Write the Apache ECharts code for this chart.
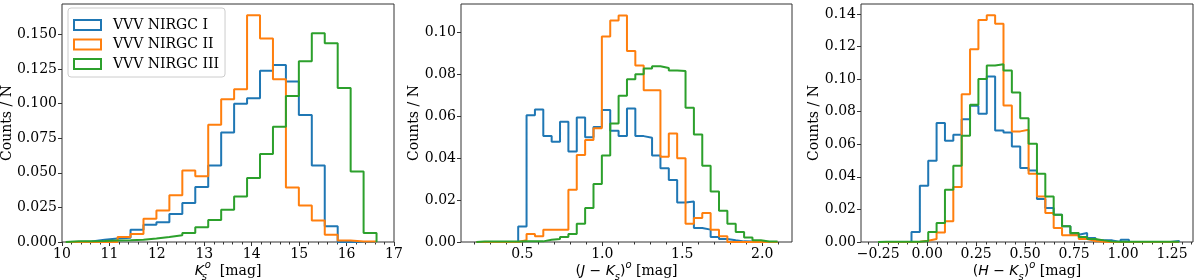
<!DOCTYPE html>
<html><head><meta charset="utf-8">
<script src="https://cdn.jsdelivr.net/npm/echarts@6/dist/echarts.min.js"></script>
<style>html,body{margin:0;padding:0;background:#fff}#c{width:1200px;height:280px}</style>
</head><body><div id="c"></div>
<script>
const SERIES_NAMES = ['VVV NIRGC I', 'VVV NIRGC II', 'VVV NIRGC III'];
const COLORS = ['#1f77b4', '#ff7f0e', '#2ca02c'];

// Panel 1: Ks^o histogram (bins)
const KS_BIN_START = 10.08, KS_BIN_WIDTH = 0.273;
const ks_I   = [0, 0.0003, 0.0017, 0.0026, 0.003, 0.0089, 0.0125, 0.0142, 0.0202, 0.0281, 0.0397, 0.0553, 0.0791, 0.0998, 0.1038, 0.1236, 0.1279, 0.1159, 0.0918, 0.0553, 0.0113, 0, 0, 0];
const ks_II  = [0, 0, 0, 0, 0.0036, 0.0058, 0.0168, 0.0228, 0.0337, 0.0517, 0.0474, 0.0846, 0.1031, 0.1103, 0.1637, 0.1469, 0.1175, 0.0394, 0.0264, 0.0156, 0.0053, 0.001, 0.0003, 0.0003];
const ks_III = [0.0005, 0.0005, 0.0007, 0.001, 0.0012, 0.0017, 0.0026, 0.0036, 0.0048, 0.0065, 0.0106, 0.0159, 0.0233, 0.0329, 0.0462, 0.0635, 0.0832, 0.1055, 0.1305, 0.1507, 0.1435, 0.1113, 0.051, 0.0065];

// Panel 2: (J-Ks)^o histogram
const JK_BIN_START = 0.213, JK_BIN_WIDTH = 0.0523;
const jk_I   = [0, 0, 0, 0, 0, 0.0074, 0.0605, 0.0632, 0.0505, 0.0478, 0.0573, 0.0431, 0.0594, 0.0499, 0.0549, 0.0629, 0.053, 0.0505, 0.0637, 0.0505, 0.0497, 0.0412, 0.0352, 0.0296, 0.0188, 0.0193, 0.0067, 0.0059, 0.0024, 0.0014, 0.0008, 0.0003, 0.0002, 0, 0, 0];
const jk_II  = [0, 0, 0, 0, 0, 0.0008, 0.0038, 0.0027, 0.0059, 0.0059, 0.0059, 0.0249, 0.0415, 0.0486, 0.0542, 0.098, 0.1056, 0.108, 0.0911, 0.0842, 0.0724, 0.0724, 0.0407, 0.0518, 0.0399, 0.0087, 0.0114, 0.0138, 0.0059, 0.0027, 0, 0, 0, 0, 0, 0];
const jk_III = [0.0002, 0.0002, 0.0002, 0.0002, 0.0002, 0.0003, 0.0003, 0.0003, 0.0011, 0.0014, 0.0024, 0.0038, 0.0087, 0.0162, 0.0277, 0.0412, 0.0565, 0.0697, 0.0776, 0.08, 0.0827, 0.0838, 0.083, 0.0818, 0.0816, 0.064, 0.0513, 0.0364, 0.0241, 0.0149, 0.0087, 0.0048, 0.0022, 0.0008, 0.0002, 0.0002];

// Panel 3: (H-Ks)^o histogram
const HK_BIN_START = -0.251, HK_BIN_WIDTH = 0.0427;
const hk_I   = [0, 0, 0, 0, 0.0061, 0.0345, 0.0499, 0.073, 0.0621, 0.0658, 0.0754, 0.0836, 0.0787, 0.1016, 0.0685, 0.0672, 0.0587, 0.0454, 0.0439, 0.0264, 0.0208, 0.0168, 0.0096, 0.0045, 0.0055, 0.0025, 0.001, 0.001, 0, 0.0014, 0, 0, 0, 0, 0, 0.0006];
const hk_II  = [0, 0, 0, 0, 0.0002, 0.0008, 0.0018, 0.0059, 0.0127, 0.0337, 0.0907, 0.1183, 0.1363, 0.1392, 0.1339, 0.0838, 0.0679, 0.0689, 0.0419, 0.028, 0.0178, 0.0086, 0.0041, 0.0041, 0.0018, 0.0006, 0.0002, 0, 0, 0, 0, 0, 0, 0, 0, 0];
const hk_III = [0.0002, 0.0002, 0.0002, 0.0002, 0.0002, 0.0006, 0.0061, 0.0116, 0.032, 0.0468, 0.0652, 0.0842, 0.1001, 0.1083, 0.1091, 0.1053, 0.0918, 0.076, 0.0603, 0.0419, 0.028, 0.0168, 0.0096, 0.0055, 0.0031, 0.0018, 0.001, 0.0003, 0.0002, 0.0002, 0.0002, 0.0002, 0.0002, 0.0002, 0.0002, 0.0002];

// Tick values and labels
const KS_X_TICKS = [10, 11, 12, 13, 14, 15, 16, 17];
const KS_X_LABELS = ['10', '11', '12', '13', '14', '15', '16', '17'];
const KS_Y_TICKS = [0, 0.025, 0.05, 0.075, 0.1, 0.125, 0.15];
const KS_Y_LABELS = ['0.000', '0.025', '0.050', '0.075', '0.100', '0.125', '0.150'];
const JK_X_TICKS = [0.5, 1.0, 1.5, 2.0];
const JK_X_LABELS = ['0.5', '1.0', '1.5', '2.0'];
const JK_Y_TICKS = [0, 0.02, 0.04, 0.06, 0.08, 0.10];
const JK_Y_LABELS = ['0.00', '0.02', '0.04', '0.06', '0.08', '0.10'];
const HK_X_TICKS = [-0.25, 0, 0.25, 0.5, 0.75, 1.0, 1.25];
const HK_X_LABELS = ['\u22120.25', '0.00', '0.25', '0.50', '0.75', '1.00', '1.25'];
const HK_Y_TICKS = [0, 0.02, 0.04, 0.06, 0.08, 0.10, 0.12, 0.14];
const HK_Y_LABELS = ['0.00', '0.02', '0.04', '0.06', '0.08', '0.10', '0.12', '0.14'];

const SERIF = 'DejaVu Serif';
const SANS = 'DejaVu Sans';
const AXIS_COLOR = '#333';

function stepData(start, width, vals) {
  const d = [[start, 0]];
  vals.forEach((v, i) => d.push([start + i * width, v]));
  d.push([start + vals.length * width, 0]);
  return d;
}
function minorTicks(a, b, step) {
  const out = [];
  const n = Math.round((b - a) / step);
  for (let i = 0; i <= n; i++) out.push(+(a + i * step).toFixed(6));
  return out;
}
function labelFmt(ticks, labels) {
  return v => {
    for (let i = 0; i < ticks.length; i++) if (Math.abs(ticks[i] - v) < 1e-9) return labels[i];
    return '';
  };
}

const rich = {
  m: { fontFamily: SANS, fontStyle: 'italic', fontSize: 14, color: '#000', lineHeight: 22, verticalAlign: 'middle' },
  r: { fontFamily: SANS, fontSize: 14, color: '#000', lineHeight: 22, verticalAlign: 'middle' },
  sub: { fontFamily: SANS, fontStyle: 'italic', fontSize: 10, color: '#000', lineHeight: 22, verticalAlign: 'bottom' },
  subz: { fontFamily: SANS, fontStyle: 'italic', fontSize: 10, color: '#000', lineHeight: 22, verticalAlign: 'bottom', width: 1, overflow: 'none' },
  sup: { fontFamily: SANS, fontStyle: 'italic', fontSize: 10, color: '#000', lineHeight: 22, verticalAlign: 'top' },
  t: { fontFamily: SERIF, fontSize: 14, color: '#000', lineHeight: 22, verticalAlign: 'middle' }
};

const panels = [
  { grid: { left: 62, top: 4, width: 332, height: 238 }, xmin: 10, xmax: 17, ymax: 0.1719,
    xt: KS_X_TICKS, xl: KS_X_LABELS, yt: KS_Y_TICKS, yl: KS_Y_LABELS, minor: minorTicks(10, 17, 0.2),
    name: '{m|K}{subz|s}{sup|o}{t|  [mag]}', yGap: 48,
    start: KS_BIN_START, width: KS_BIN_WIDTH, data: [ks_I, ks_II, ks_III] },
  { grid: { left: 461, top: 4, width: 331, height: 238 }, xmin: 0.117, xmax: 2.186, ymax: 0.1135,
    xt: JK_X_TICKS, xl: JK_X_LABELS, yt: JK_Y_TICKS, yl: JK_Y_LABELS, minor: minorTicks(0.2, 2.1, 0.1),
    name: '{r|(}{m|J}{r| \u2212 }{m|K}{sub|s}{r|)}{sup|o}{t| [mag]}', yGap: 40,
    start: JK_BIN_START, width: JK_BIN_WIDTH, data: [jk_I, jk_II, jk_III] },
  { grid: { left: 861, top: 4, width: 332, height: 238 }, xmin: -0.338, xmax: 1.357, ymax: 0.1461,
    xt: HK_X_TICKS, xl: HK_X_LABELS, yt: HK_Y_TICKS, yl: HK_Y_LABELS, minor: minorTicks(-0.3, 1.35, 0.05),
    name: '{r|(}{m|H}{r| \u2212 }{m|K}{sub|s}{r|)}{sup|o}{t| [mag]}', yGap: 40,
    start: HK_BIN_START, width: HK_BIN_WIDTH, data: [hk_I, hk_II, hk_III] }
];

const option = {
  animation: false,
  backgroundColor: '#fff',
  grid: [], xAxis: [], yAxis: [], series: [],
  legend: {
    left: 68, top: 8, orient: 'vertical',
    padding: [10, 6, 6, 5], itemGap: 5.5, itemWidth: 27, itemHeight: 10,
    backgroundColor: 'rgba(255,255,255,0.8)', borderColor: '#cccccc', borderWidth: 1, borderRadius: 3,
    textStyle: { fontFamily: SERIF, fontSize: 14, color: '#000', padding: [0, 0, 0, 7] },
    data: SERIES_NAMES.map((n, i) => ({ name: n, icon: 'rect',
      itemStyle: { color: 'rgba(255,255,255,0)', borderColor: COLORS[i], borderWidth: 2 } }))
  }
};

panels.forEach((p, pi) => {
  option.grid.push(Object.assign({ show: true, borderColor: AXIS_COLOR, borderWidth: 1, backgroundColor: 'transparent',
    containLabel: false, outerBoundsMode: 'none' }, p.grid));
  option.xAxis.push({
    type: 'value', gridIndex: pi, min: p.xmin, max: p.xmax, position: 'bottom',
    axisLine: { show: false, onZero: false },
    axisTick: { show: true, customValues: p.xt, length: 4, lineStyle: { color: AXIS_COLOR, width: 1 } },
    axisLabel: { customValues: p.xt, formatter: labelFmt(p.xt, p.xl), margin: 5, fontFamily: SERIF, fontSize: 14, color: '#000' },
    splitLine: { show: false },
    name: p.name, nameLocation: 'middle', nameGap: 18, nameMoveOverlap: false,
    nameTextStyle: { rich: rich, fontFamily: SERIF, fontSize: 14, color: '#000' }
  });
  option.xAxis.push({
    type: 'value', gridIndex: pi, min: p.xmin, max: p.xmax, position: 'bottom',
    axisLine: { show: false, onZero: false },
    axisTick: { show: true, customValues: p.minor, length: 2.5, lineStyle: { color: AXIS_COLOR, width: 1 } },
    axisLabel: { show: false }, splitLine: { show: false }
  });
  option.yAxis.push({
    type: 'value', gridIndex: pi, min: 0, max: p.ymax,
    axisLine: { show: false, onZero: false },
    axisTick: { show: true, customValues: p.yt, length: 4, lineStyle: { color: AXIS_COLOR, width: 1 } },
    axisLabel: { customValues: p.yt, formatter: labelFmt(p.yt, p.yl), margin: 5, fontFamily: SERIF, fontSize: 14, color: '#000' },
    splitLine: { show: false },
    name: 'Counts / N', nameLocation: 'middle', nameGap: p.yGap, nameMoveOverlap: false,
    nameTextStyle: { fontFamily: SERIF, fontSize: 14, color: '#000' }
  });
  p.data.forEach((vals, si) => {
    option.series.push({
      type: 'line', name: SERIES_NAMES[si], xAxisIndex: pi * 2, yAxisIndex: pi,
      step: 'end', showSymbol: false, symbol: 'none', clip: false,
      lineStyle: { color: COLORS[si], width: 2 }, itemStyle: { color: COLORS[si] },
      data: stepData(p.start, p.width, vals)
    });
  });
});

const chart = echarts.init(document.getElementById('c'), null, { renderer: 'canvas' });
chart.setOption(option);
</script></body></html>
